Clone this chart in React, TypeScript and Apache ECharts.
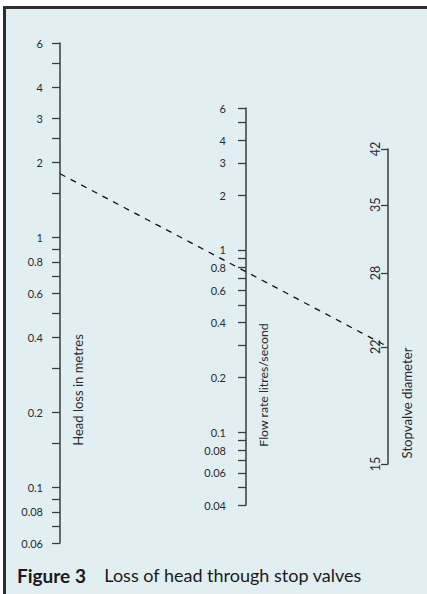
import React, { useEffect, useRef } from "react";
import * as echarts from "echarts";

// Head loss scale (metres)
const headLossRange = [0.06, 6];
const headLossTicks = [6, 5, 4, 3, 2.5, 2, 1.5, 1, 0.9, 0.8, 0.7, 0.6, 0.5, 0.4, 0.3, 0.2, 0.15, 0.1, 0.09, 0.08, 0.07, 0.06];
const headLossLabels = [6, 4, 3, 2, 1, 0.8, 0.6, 0.4, 0.2, 0.1, 0.08, 0.06];

// Flow rate scale (litres/second)
const flowRange = [0.04, 6];
const flowTicks = [6, 5, 4, 3, 2, 1, 0.9, 0.8, 0.7, 0.6, 0.5, 0.4, 0.3, 0.2, 0.1, 0.09, 0.08, 0.07, 0.06, 0.05, 0.04];
const flowLabels = [6, 4, 3, 2, 1, 0.8, 0.6, 0.4, 0.2, 0.1, 0.08, 0.06, 0.04];

// Stopvalve diameter scale (mm)
const diameterRange = [15, 42];
const diameterTicks = [42, 35, 28, 22, 15];
const diameterLabels = [42, 35, 28, 22, 15];

// Example reading drawn as dashed line: head loss, flow rate, diameter
const exampleReading = [1.8, 0.76, 22];

const axisTitles = ["Head loss in metres", "Flow rate litres/second", "Stopvalve diameter"];

const FONT = "Lato, 'Open Sans', sans-serif";
const INK = "#2a2a2a";
const AXIS = "#3c3c3c";

const lg = (v: number) => Math.log10(v);
const fmt = (v: number) => String(parseFloat(Math.pow(10, v).toPrecision(4)));

function makeYAxis(i: number, range: number[], ticks: number[], labels: number[], extra: any = {}) {
  return {
    gridIndex: i,
    type: "value",
    position: "left",
    min: lg(range[0]),
    max: lg(range[1]),
    axisLine: { show: true, lineStyle: { color: AXIS, width: 1.5 } },
    axisTick: {
      show: true,
      length: extra.tickLength ?? 8,
      customValues: ticks.map(lg),
      lineStyle: { color: AXIS, width: 1.3 },
    },
    axisLabel: {
      show: true,
      customValues: labels.map(lg),
      formatter: (v: number) => fmt(v),
      margin: extra.margin ?? 9,
      rotate: extra.rotate ?? 0,
      fontSize: extra.fontSize ?? 11,
      fontFamily: FONT,
      color: INK,
    },
    splitLine: { show: false },
  };
}

export default function App() {
  const ref = useRef<HTMLDivElement>(null);

  useEffect(() => {
    if (!ref.current) return;
    const chart = echarts.init(ref.current, null, { renderer: "svg" });
    const option: any = {
      animation: false,
      backgroundColor: "transparent",
      grid: [
        { left: 60, top: 43, width: 20, height: 500 },
        { left: 246, top: 108, width: 20, height: 397 },
        { left: 388, top: 149, width: 20, height: 315 },
      ],
      xAxis: [0, 1, 2].map((i) => ({ gridIndex: i, type: "value", min: 0, max: 1, show: false })),
      yAxis: [
        makeYAxis(0, headLossRange, headLossTicks, headLossLabels, { margin: 17 }),
        makeYAxis(1, flowRange, flowTicks, flowLabels, { margin: 20 }),
        makeYAxis(2, diameterRange, diameterTicks, diameterLabels, { margin: 6, rotate: 90, tickLength: 7, fontSize: 12.5 }),
      ],
      series: [],
    };
    chart.setOption(option);

    const pts = exampleReading.map((v, i) => [
      chart.convertToPixel({ xAxisIndex: i } as any, 0) as number,
      chart.convertToPixel({ yAxisIndex: i } as any, lg(v)) as number,
    ]);

    const titlePos = [
      [78, 390],
      [263.5, 385],
      [407, 403],
    ];
    const titleSize = [13, 12.3, 13.2];

    chart.setOption({
      graphic: [
        {
          id: "example",
          type: "polyline",
          shape: { points: pts },
          style: { stroke: "#111", lineWidth: 1.3, lineDash: [6, 6], fill: null },
          z: 10,
        },
        ...axisTitles.map((t, i) => ({
          id: "title" + i,
          type: "text",
          x: titlePos[i][0],
          y: titlePos[i][1],
          rotation: Math.PI / 2,
          style: {
            text: t,
            align: "center",
            verticalAlign: "middle",
            fontSize: titleSize[i],
            fontFamily: FONT,
            fill: INK,
          },
        })),
        {
          id: "caption",
          type: "text",
          x: 17,
          y: 575,
          style: {
            text: "{b|Figure 3}    Loss of head through stop valves",
            verticalAlign: "middle",
            fontSize: 18,
            fontFamily: FONT,
            fill: "#1a1a1a",
            rich: {
              b: { fontWeight: "bold", fontSize: 19, fontFamily: FONT, fill: "#1a1a1a" },
            },
          },
        },
      ],
    });

    return () => chart.dispose();
  }, []);

  return (
    <div style={{ position: "absolute", left: 0, top: 0, width: 427, height: 594, background: "#ffffff", overflow: "hidden" }}>
      <div
        style={{
          position: "absolute",
          left: 3,
          top: 6,
          width: 424,
          height: 588,
          boxSizing: "border-box",
          background: "#e1eff3",
          borderTop: "3.5px solid #2e2e2e",
          borderLeft: "3.5px solid #2e2e2e",
        }}
      />
      <div ref={ref} style={{ position: "absolute", left: 0, top: 0, width: 427, height: 594 }} />
    </div>
  );
}
